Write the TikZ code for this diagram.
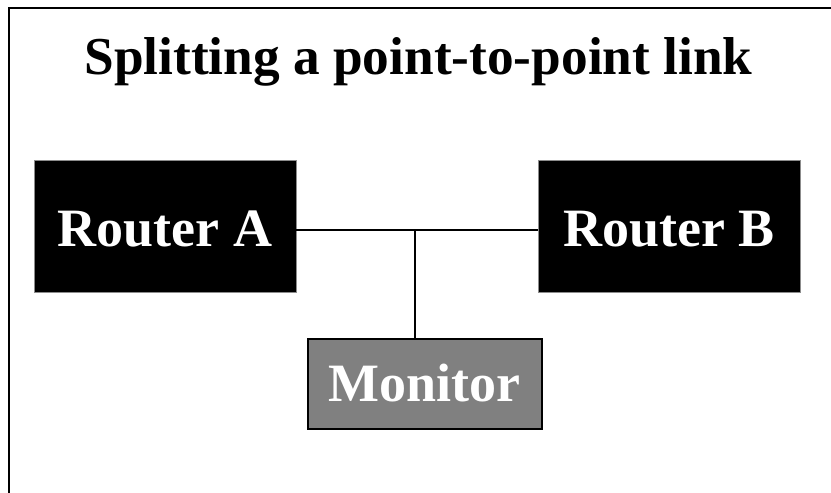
\documentclass[tikz,border=0pt]{standalone}
\usepackage{fontspec}
\setmainfont{Liberation Serif}
\begin{document}
\begin{tikzpicture}[x=1pt,y=-1pt,
  router/.style={draw=black!45, line width=0.8pt, fill=black, text=white, inner sep=0pt,
    minimum width=262pt, minimum height=132pt, font=\fontsize{54}{60}\selectfont\bfseries},
  monbox/.style={draw=black, line width=2pt, fill=black!50, text=white, inner sep=0pt,
    minimum width=234pt, minimum height=90pt, font=\fontsize{54}{60}\selectfont\bfseries},
  link/.style={draw=black, line width=1.8pt},
  frame/.style={draw=black, line width=2pt}]
\useasboundingbox (0,0) rectangle (831,493);
\draw[frame] (9,493) -- (9,8) -- (832,8);
\node[font=\fontsize{53.3}{60}\selectfont\bfseries, inner sep=0pt, anchor=base] (title) at (418.5,74) {Splitting a point-to-point link};
\node[router] (A) at (165,226) {\raisebox{-3pt}[\height][0pt]{Router A}};
\node[router] (B) at (669,226) {\raisebox{-3pt}[\height][0pt]{Router B}};
\node[monbox] (M) at (424.5,383.5) {Monitor};
\coordinate (j) at (415,230);
\draw[link] (A.east |- j) -- (B.west |- j);
\draw[link] (j) -- (j |- M.north);
\end{tikzpicture}
\end{document}
